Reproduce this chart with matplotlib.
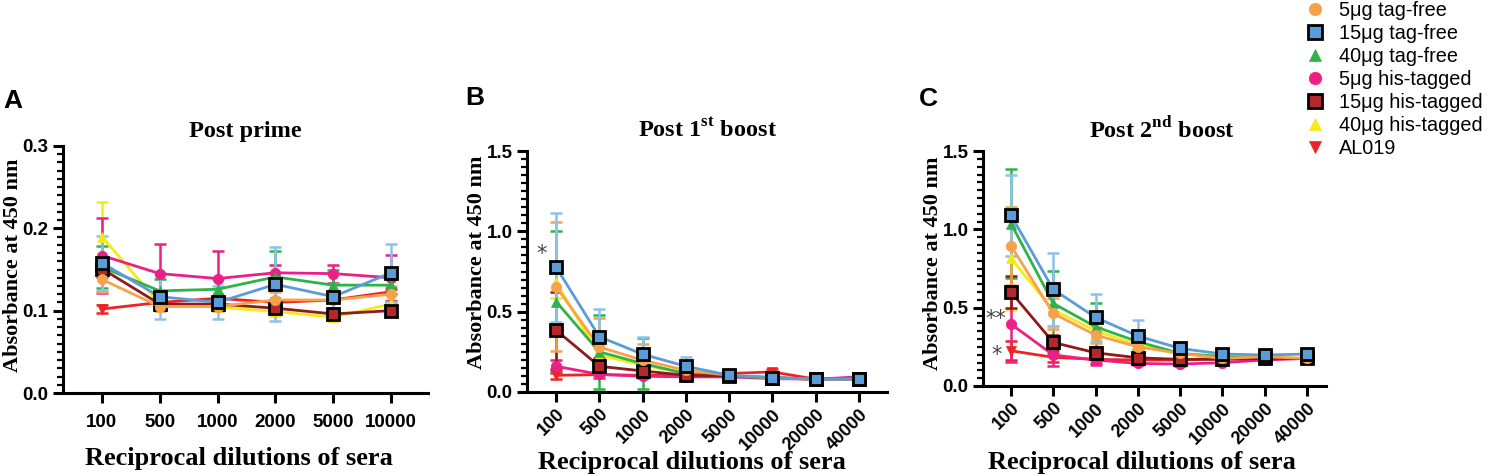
import matplotlib
matplotlib.use("Agg")
import matplotlib.pyplot as plt
from matplotlib.lines import Line2D
from matplotlib.ticker import MultipleLocator

plt.rcParams['mathtext.fontset'] = 'custom'
plt.rcParams['mathtext.rm'] = 'Liberation Serif:bold'
plt.rcParams['mathtext.bf'] = 'Liberation Serif:bold'

# ---- data ----
dil_a = ["100", "500", "1000", "2000", "5000", "10000"]
dil_bc = ["100", "500", "1000", "2000", "5000", "10000", "20000", "40000"]

groups = ["5μg tag-free", "15μg tag-free", "40μg tag-free", "5μg his-tagged",
          "15μg his-tagged", "40μg his-tagged", "AL019"]

# post prime
prime_mean = {
    "5μg tag-free":    [0.138, 0.105, 0.105, 0.113, 0.113, 0.120],
    "15μg tag-free":   [0.158, 0.117, 0.110, 0.132, 0.117, 0.146],
    "40μg tag-free":   [0.153, 0.124, 0.126, 0.141, 0.131, 0.131],
    "5μg his-tagged":  [0.167, 0.145, 0.139, 0.146, 0.145, 0.140],
    "15μg his-tagged": [0.151, 0.108, 0.108, 0.103, 0.096, 0.100],
    "40μg his-tagged": [0.190, 0.108, 0.104, 0.099, 0.092, 0.108],
    "AL019":           [0.102, 0.110, 0.115, 0.110, 0.113, 0.123],
}
prime_err = {
    "5μg tag-free":    [0.015, 0.005, 0.005, 0.010, 0.010, 0.010],
    "15μg tag-free":   [0.033, 0.027, 0.020, 0.045, 0.015, 0.035],
    "40μg tag-free":   [0.025, 0.015, 0.012, 0.032, 0.018, 0.021],
    "5μg his-tagged":  [0.045, 0.036, 0.034, 0.009, 0.011, 0.028],
    "15μg his-tagged": [0.010, 0.005, 0.005, 0.005, 0.005, 0.004],
    "40μg his-tagged": [0.042, 0.005, 0.005, 0.005, 0.005, 0.005],
    "AL019":           [0.005, 0.003, 0.003, 0.003, 0.003, 0.003],
}

# post 1st boost
boost1_mean = {
    "5μg tag-free":    [0.656, 0.280, 0.198, 0.135, 0.104, 0.088, 0.080, 0.080],
    "15μg tag-free":   [0.777, 0.344, 0.235, 0.160, 0.104, 0.090, 0.080, 0.080],
    "40μg tag-free":   [0.563, 0.250, 0.177, 0.115, 0.098, 0.088, 0.080, 0.080],
    "5μg his-tagged":  [0.160, 0.110, 0.098, 0.094, 0.094, 0.083, 0.080, 0.094],
    "15μg his-tagged": [0.385, 0.160, 0.131, 0.104, 0.100, 0.090, 0.080, 0.080],
    "40μg his-tagged": [0.683, 0.229, 0.167, 0.115, 0.100, 0.088, 0.080, 0.080],
    "AL019":           [0.104, 0.108, 0.104, 0.104, 0.115, 0.125, 0.080, 0.088],
}
boost1_err = {
    "5μg tag-free":    [0.40, 0.18, 0.10, 0.06, 0.01, 0.01, 0.005, 0.005],
    "15μg tag-free":   [0.34, 0.17, 0.11, 0.06, 0.01, 0.01, 0.005, 0.005],
    "40μg tag-free":   [0.44, 0.23, 0.16, 0.04, 0.01, 0.01, 0.005, 0.005],
    "5μg his-tagged":  [0.04, 0.02, 0.01, 0.01, 0.01, 0.01, 0.005, 0.005],
    "15μg his-tagged": [0.24, 0.05, 0.03, 0.02, 0.01, 0.01, 0.005, 0.005],
    "40μg his-tagged": [0.10, 0.05, 0.04, 0.02, 0.01, 0.01, 0.005, 0.005],
    "AL019":           [0.02, 0.01, 0.01, 0.01, 0.01, 0.02, 0.005, 0.005],
}

# post 2nd boost
boost2_mean = {
    "5μg tag-free":    [0.894, 0.463, 0.325, 0.250, 0.208, 0.176, 0.187, 0.176],
    "15μg tag-free":   [1.090, 0.616, 0.438, 0.319, 0.240, 0.204, 0.198, 0.204],
    "40μg tag-free":   [1.037, 0.527, 0.378, 0.283, 0.208, 0.187, 0.176, 0.176],
    "5μg his-tagged":  [0.395, 0.198, 0.166, 0.144, 0.140, 0.149, 0.166, 0.176],
    "15μg his-tagged": [0.599, 0.278, 0.212, 0.180, 0.170, 0.170, 0.176, 0.176],
    "40μg his-tagged": [0.814, 0.484, 0.353, 0.261, 0.204, 0.187, 0.183, 0.176],
    "AL019":           [0.225, 0.183, 0.170, 0.166, 0.166, 0.176, 0.176, 0.176],
}
boost2_err = {
    "5μg tag-free":    [0.25, 0.10, 0.05, 0.03, 0.02, 0.01, 0.01, 0.01],
    "15μg tag-free":   [0.26, 0.235, 0.15, 0.10, 0.03, 0.01, 0.01, 0.01],
    "40μg tag-free":   [0.35, 0.21, 0.15, 0.05, 0.02, 0.01, 0.01, 0.01],
    "5μg his-tagged":  [0.24, 0.07, 0.03, 0.01, 0.01, 0.01, 0.01, 0.01],
    "15μg his-tagged": [0.10, 0.05, 0.04, 0.02, 0.01, 0.01, 0.01, 0.01],
    "40μg his-tagged": [0.33, 0.10, 0.05, 0.03, 0.01, 0.01, 0.01, 0.01],
    "AL019":           [0.06, 0.03, 0.02, 0.01, 0.01, 0.01, 0.01, 0.01],
}

# ---- styles ----
line_col = {
    "5μg tag-free": "#f7a24b", "15μg tag-free": "#5b9bd8", "40μg tag-free": "#2eb24a",
    "5μg his-tagged": "#ec1f87", "15μg his-tagged": "#8e1b1b", "40μg his-tagged": "#f4ea16",
    "AL019": "#ee2424",
}
err_col = dict(line_col)
err_col["15μg tag-free"] = "#8cc1ea"
face_col = dict(line_col)
face_col["15μg his-tagged"] = "#b5272a"
markers = {
    "5μg tag-free": "o", "15μg tag-free": "s", "40μg tag-free": "^",
    "5μg his-tagged": "o", "15μg his-tagged": "s", "40μg his-tagged": "^", "AL019": "v",
}
draw_order = ["40μg his-tagged", "AL019", "5μg his-tagged", "40μg tag-free",
              "15μg his-tagged", "5μg tag-free", "15μg tag-free"]

W, H = 1489, 475
fig = plt.figure(figsize=(W / 100, H / 100), dpi=100)
fig.patch.set_facecolor('white')


def px(x, y):
    return x / W, 1 - y / H


def fig_box(l, r, t, b):
    return [l / W, 1 - b / H, (r - l) / W, (b - t) / H]


def marker_kw(g, big=False):
    if markers[g] == "s":
        return dict(marker="s", markersize=10 if big else 9, markerfacecolor=face_col[g],
                    markeredgecolor="black", markeredgewidth=2.0)
    return dict(marker=markers[g], markersize=9 if big else 7.5, markerfacecolor=face_col[g],
                markeredgecolor=face_col[g], markeredgewidth=0.5)


def panel(box, cats, mean, err, ymax, major, minor, xlim, rot):
    ax = fig.add_axes(box)
    x = list(range(len(cats)))
    for g in draw_order:
        ax.errorbar(x, mean[g], yerr=err[g], fmt="none", ecolor=err_col[g],
                    elinewidth=1.8, capsize=4, capthick=1.8, zorder=2)
    for g in draw_order:
        ax.plot(x, mean[g], color=line_col[g], lw=2.0, zorder=3, **marker_kw(g))
    ax.set_ylim(0, ymax)
    ax.set_xlim(*xlim)
    ax.yaxis.set_major_locator(MultipleLocator(major))
    ax.yaxis.set_minor_locator(MultipleLocator(minor))
    ax.set_xticks(x)
    if rot:
        ax.set_xticklabels(cats, rotation=45, ha="right", rotation_mode="anchor")
    else:
        ax.set_xticklabels(cats)
    for s in ["top", "right"]:
        ax.spines[s].set_visible(False)
    for s in ["left", "bottom"]:
        ax.spines[s].set_linewidth(2.2)
    ax.tick_params(axis="both", which="major", length=7, width=2.2, direction="out")
    ax.tick_params(axis="y", which="minor", length=4, width=1.6)
    ax.tick_params(axis="x", pad=8 if not rot else 3)
    ax.yaxis.set_major_formatter(plt.FuncFormatter(lambda v, p: f"{v:.1f}"))
    for lab in ax.get_yticklabels():
        lab.set_fontfamily("Liberation Sans")
        lab.set_fontweight("bold")
        lab.set_fontsize(13.5)
    for lab in ax.get_xticklabels():
        lab.set_fontfamily("Liberation Sans")
        lab.set_fontweight("bold")
        lab.set_fontsize(13 if rot else 13.5)
    return ax


serif = dict(family="Liberation Serif", weight="bold")
sans = dict(family="Liberation Sans", weight="bold")

axA = panel(fig_box(63, 428, 146, 393), dil_a, prime_mean, prime_err,
            0.3, 0.1, 0.01, (-0.672, 5.638), False)
axB = panel(fig_box(527, 887, 151, 392), dil_bc, boost1_mean, boost1_err,
            1.5, 0.5, 0.05, (-0.672, 7.649), True)
axC = panel(fig_box(983, 1326, 151, 386), dil_bc, boost2_mean, boost2_err,
            1.5, 0.5, 0.05, (-0.662, 7.449), True)

# titles
fig.text(*px(245, 132), "Post prime", ha="center", va="center", fontsize=17.5, **serif)
fig.text(*px(708, 130), r"Post 1$^{\mathrm{st}}$ boost", ha="center", va="center", fontsize=17.5, **serif)
fig.text(*px(1162, 130), r"Post 2$^{\mathrm{nd}}$ boost", ha="center", va="center", fontsize=17.5, **serif)

# axis labels
for xc, yc in ((239, 458), (692, 462), (1142, 462)):
    fig.text(*px(xc, yc), "Reciprocal dilutions of sera", ha="center", va="center",
             fontsize=19, **serif)
for xc, yc in ((13, 265), (477, 262), (933, 263)):
    fig.text(*px(xc, yc), "Absorbance at 450 nm", ha="center", va="center",
             rotation=90, fontsize=16, **serif)

# panel letters
for xc, yc, t in ((13, 101, "A"), (475, 98, "B"), (928, 99, "C")):
    fig.text(*px(xc, yc), t, ha="center", va="center", fontsize=19, **sans)

# significance marks
axB.text(-0.33, 0.86, "*", ha="center", va="center", fontsize=15, color="#444444")
axC.text(-0.35, 0.43, "**", ha="center", va="center", fontsize=15, color="#444444")
axC.text(-0.35, 0.20, "*", ha="center", va="center", fontsize=15, color="#444444")

# legend
handles = [Line2D([], [], linestyle="none", **marker_kw(g, big=True)) for g in groups]
leg = fig.legend(handles, groups, loc="upper left", bbox_to_anchor=px(1303, 1),
                 frameon=False, prop=dict(family="Liberation Sans", size=14.3),
                 handlelength=1.2, handletextpad=0.6, labelspacing=0.2,
                 borderaxespad=0, borderpad=0)

fig.savefig("out.png", dpi=100, facecolor="white")
